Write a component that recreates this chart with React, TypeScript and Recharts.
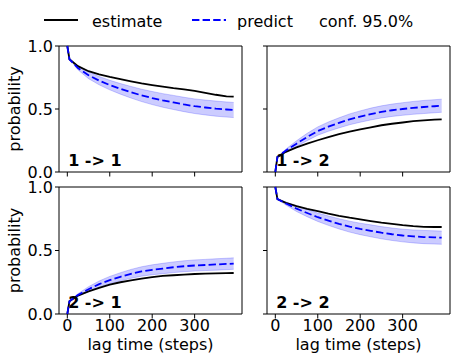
import React from "react";
import { ComposedChart, Line, Area, XAxis, YAxis, ReferenceArea } from "recharts";

const LAGS = [0, 5, 25, 50, 75, 100, 125, 150, 175, 200, 225, 250, 275, 300, 325, 350, 375, 392];

const EST_11 = [1.0, 0.895, 0.84, 0.8, 0.775, 0.755, 0.737, 0.72, 0.703, 0.69, 0.678, 0.665, 0.655, 0.643, 0.628, 0.613, 0.601, 0.598];
const PRED_11 = [1.0, 0.895, 0.825, 0.768, 0.725, 0.69, 0.66, 0.633, 0.608, 0.587, 0.568, 0.552, 0.536, 0.522, 0.512, 0.503, 0.496, 0.492];
const HI_11 = [1.0, 0.895, 0.839, 0.795, 0.758, 0.728, 0.702, 0.679, 0.657, 0.639, 0.622, 0.608, 0.593, 0.58, 0.571, 0.563, 0.556, 0.552];
const LO_11 = [1.0, 0.895, 0.811, 0.741, 0.692, 0.652, 0.618, 0.587, 0.559, 0.535, 0.514, 0.496, 0.479, 0.464, 0.453, 0.443, 0.436, 0.432];

const EST_12 = [0.0, 0.12, 0.16, 0.195, 0.225, 0.252, 0.277, 0.3, 0.32, 0.338, 0.355, 0.371, 0.383, 0.393, 0.403, 0.41, 0.415, 0.418];
const PRED_12 = [0.0, 0.12, 0.17, 0.225, 0.278, 0.325, 0.36, 0.39, 0.418, 0.44, 0.46, 0.477, 0.49, 0.5, 0.509, 0.516, 0.522, 0.526];
const HI_12 = [0.0, 0.12, 0.182, 0.248, 0.307, 0.358, 0.397, 0.43, 0.461, 0.485, 0.507, 0.525, 0.539, 0.55, 0.56, 0.568, 0.574, 0.578];
const LO_12 = [0.0, 0.12, 0.158, 0.202, 0.249, 0.292, 0.323, 0.35, 0.375, 0.395, 0.413, 0.429, 0.441, 0.45, 0.458, 0.464, 0.47, 0.474];

const EST_21 = [0.0, 0.1, 0.145, 0.178, 0.205, 0.232, 0.25, 0.265, 0.279, 0.29, 0.3, 0.305, 0.31, 0.315, 0.318, 0.32, 0.322, 0.323];
const PRED_21 = [0.0, 0.1, 0.15, 0.195, 0.235, 0.267, 0.293, 0.316, 0.335, 0.348, 0.358, 0.368, 0.376, 0.382, 0.386, 0.39, 0.394, 0.397];
const HI_21 = [0.0, 0.1, 0.16, 0.215, 0.26, 0.296, 0.325, 0.351, 0.372, 0.387, 0.399, 0.41, 0.419, 0.426, 0.43, 0.435, 0.439, 0.442];
const LO_21 = [0.0, 0.1, 0.14, 0.175, 0.21, 0.238, 0.261, 0.281, 0.298, 0.309, 0.317, 0.326, 0.333, 0.338, 0.342, 0.345, 0.349, 0.352];

const EST_22 = [1.0, 0.905, 0.875, 0.85, 0.828, 0.81, 0.79, 0.773, 0.758, 0.745, 0.732, 0.72, 0.71, 0.7, 0.692, 0.686, 0.685, 0.685];
const PRED_22 = [1.0, 0.905, 0.87, 0.83, 0.795, 0.762, 0.735, 0.71, 0.688, 0.67, 0.655, 0.64, 0.628, 0.618, 0.611, 0.606, 0.603, 0.601];
const HI_22 = [1.0, 0.905, 0.882, 0.853, 0.824, 0.795, 0.772, 0.75, 0.731, 0.715, 0.702, 0.688, 0.677, 0.668, 0.662, 0.658, 0.655, 0.653];
const LO_22 = [1.0, 0.905, 0.858, 0.807, 0.766, 0.729, 0.698, 0.67, 0.645, 0.625, 0.608, 0.592, 0.579, 0.568, 0.56, 0.554, 0.551, 0.549];

const X_TICKS = [0, 100, 200, 300];
const Y_TICKS = [0, 0.5, 1];
const X_DOMAIN: [number, number] = [-19.6, 411.6];

const PANEL_LABELS = ["1 -> 1", "1 -> 2", "2 -> 1", "2 -> 2"];
const LEGEND_LABELS = ["estimate", "predict", "conf. 95.0%"];
const X_LABEL = "lag time (steps)";
const Y_LABEL = "probability";

const FONT = "DejaVu Sans";
const BLUE = "#0000ff";

function buildRows(est: number[], pred: number[], lo: number[], hi: number[]) {
  return LAGS.map((lag, i) => ({ lag, est: est[i], pred: pred[i], band: [lo[i], hi[i]] }));
}

const HiddenTick = () => <g />;

type PanelProps = {
  data: any[];
  margin: { top: number; left: number; right: number; bottom: number };
  xLabels: boolean;
  yLabels: boolean;
};

function Panel({ data, margin, xLabels, yLabels }: PanelProps) {
  const tickStyle = { fontSize: 16, fill: "#000", fontFamily: FONT };
  return (
    <div style={{ position: "absolute", left: 0, top: 0 }}>
      <ComposedChart width={460} height={362} data={data} margin={margin}>
        <XAxis
          dataKey="lag"
          type="number"
          domain={X_DOMAIN}
          ticks={X_TICKS}
          height={30}
          axisLine={false}
          tickSize={4.5}
          tickMargin={1.5}
          stroke="#000"
          tickLine={{ stroke: "#000", strokeWidth: 1 }}
          tick={xLabels ? tickStyle : HiddenTick}
          interval={0}
        />
        <YAxis
          type="number"
          domain={[0, 1]}
          ticks={Y_TICKS}
          width={40}
          axisLine={false}
          tickSize={4}
          tickMargin={2}
          stroke="#000"
          tickLine={{ stroke: "#000", strokeWidth: 1 }}
          tick={yLabels ? tickStyle : HiddenTick}
          tickFormatter={(v: number) => v.toFixed(1)}
          interval={0}
        />
        <Area
          type="linear"
          dataKey="band"
          stroke={BLUE}
          strokeOpacity={0.2}
          strokeWidth={1}
          fill={BLUE}
          fillOpacity={0.2}
          isAnimationActive={false}
          dot={false}
          activeDot={false}
        />
        <Line
          type="linear"
          dataKey="est"
          stroke="#000"
          strokeWidth={1.8}
          dot={false}
          activeDot={false}
          isAnimationActive={false}
        />
        <Line
          type="linear"
          dataKey="pred"
          stroke={BLUE}
          strokeWidth={1.8}
          strokeDasharray="7.4 3.2"
          dot={false}
          activeDot={false}
          isAnimationActive={false}
        />
        <ReferenceArea
          x1={X_DOMAIN[0]}
          x2={X_DOMAIN[1]}
          y1={0}
          y2={1}
          fill="none"
          stroke="#000"
          strokeWidth={1}
          ifOverflow="visible"
        />
      </ComposedChart>
    </div>
  );
}

const DATA_11 = buildRows(EST_11, PRED_11, LO_11, HI_11);
const DATA_12 = buildRows(EST_12, PRED_12, LO_12, HI_12);
const DATA_21 = buildRows(EST_21, PRED_21, LO_21, HI_21);
const DATA_22 = buildRows(EST_22, PRED_22, LO_22, HI_22);

// plot boxes: left, top, right, bottom (page px)
const BOXES = [
  { l: 59, t: 46, r: 242, b: 172 },
  { l: 267, t: 46, r: 450, b: 172 },
  { l: 59, t: 187, r: 242, b: 314 },
  { l: 267, t: 187, r: 450, b: 314 },
];

function marginFor(i: number) {
  const bx = BOXES[i];
  return { top: bx.t, left: bx.l - 40, right: 460 - bx.r, bottom: 362 - bx.b - 30 };
}

export default function App() {
  const datas = [DATA_11, DATA_12, DATA_21, DATA_22];
  return (
    <div style={{ position: "absolute", left: 0, top: 0, width: 460, height: 362, background: "#fff" }}>
      {datas.map((d, i) => (
        <Panel key={i} data={d} margin={marginFor(i)} xLabels={i >= 2} yLabels={i % 2 === 0} />
      ))}
      <svg
        width={460}
        height={362}
        style={{ position: "absolute", left: 0, top: 0, pointerEvents: "none" }}
        fontFamily={FONT}
      >
        {/* legend */}
        <line x1={44} y1={20} x2={78} y2={20} stroke="#000" strokeWidth={1.8} />
        <text x={92} y={26.5} fontSize={16} fill="#000">{LEGEND_LABELS[0]}</text>
        <line x1={192} y1={20} x2={226} y2={20} stroke={BLUE} strokeWidth={1.8} strokeDasharray="7.4 3.2" />
        <text x={237} y={26.5} fontSize={16} fill="#000">{LEGEND_LABELS[1]}</text>
        <text x={319} y={26.5} fontSize={16} fill="#000">{LEGEND_LABELS[2]}</text>
        {/* panel labels */}
        {BOXES.map((bx, i) => (
          <text
            key={i}
            x={bx.l + 0.05 * (bx.r - bx.l)}
            y={bx.b - 0.05 * (bx.b - bx.t)}
            fontSize={16}
            fontWeight="bold"
            fill="#000"
          >
            {PANEL_LABELS[i]}
          </text>
        ))}
        {/* y labels */}
        {[0, 2].map((i) => {
          const cy = (BOXES[i].t + BOXES[i].b) / 2;
          return (
            <text
              key={i}
              x={19.5}
              y={cy}
              fontSize={16}
              fill="#000"
              textAnchor="middle"
              transform={`rotate(-90, 19.5, ${cy})`}
            >
              {Y_LABEL}
            </text>
          );
        })}
        {/* x labels */}
        {[2, 3].map((i) => (
          <text key={i} x={(BOXES[i].l + BOXES[i].r) / 2} y={350} fontSize={16} fill="#000" textAnchor="middle">
            {X_LABEL}
          </text>
        ))}
      </svg>
    </div>
  );
}
